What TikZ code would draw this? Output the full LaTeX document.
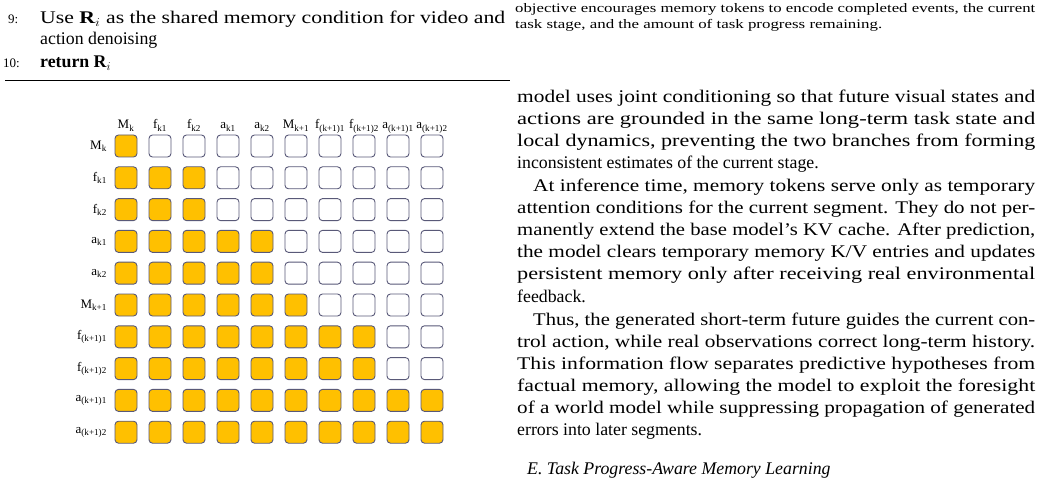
\documentclass[tikz,border=0pt]{standalone}
\usepackage{fontspec}
\usepackage{graphicx}
\setmainfont{Liberation Serif}
\begin{document}
\begin{tikzpicture}[x=1pt,y=-1pt,
  body/.style={anchor=base west,inner sep=0pt,font=\fontsize{17.8}{21}\selectfont},
  small/.style={anchor=base west,inner sep=0pt,font=\fontsize{13}{15}\selectfont},
  lab/.style={inner sep=0pt,font=\fontsize{13}{15}\selectfont},
  cell/.style={draw=black!60!blue!30!gray,line width=0.9pt,rounded corners=3.5pt,minimum width=22pt,minimum height=22pt,inner sep=0pt},
  on/.style={cell,fill=gold},
  off/.style={cell,fill=white}]
\definecolor{gold}{HTML}{FFC000}
\useasboundingbox (0,0) rectangle (1041,478);
\fill[white] (0,0) rectangle (1041,478);
% left column text
\node[body] (l9n) at (8,24) {\fontsize{13}{15}\selectfont 9:};
\node[body] (l9) at (40,24) {\resizebox{465pt}{\height}{Use $\mathbf{R}_i$ as the shared memory condition for video and}};
\node[body] (l9b) at (40,45) {action denoising};
\node[body] (l10n) at (3,68) {\fontsize{13}{15}\selectfont 10:};
\node[body] (l10) at (40,68) {\textbf{return} $\mathbf{R}_i$};
\draw[line width=0.8pt] (5,80) -- (510,80);
% right top small text
\node[small] (s1) at (515,13) {\resizebox{520pt}{\height}{objective encourages memory tokens to encode completed events, the current}};
\node[small] (s2) at (515,29) {\scalebox{1.3}[1]{task stage, and the amount of task progress remaining.}};
% body text
\foreach \t/\y/\ind/\j in {
 {model uses joint conditioning so that future visual states and}/103/0/1,
 {actions are grounded in the same long-term task state and}/125/0/1,
 {local dynamics, preventing the two branches from forming}/147/0/1,
 {inconsistent estimates of the current stage.}/169/0/0,
 {At inference time, memory tokens serve only as temporary}/192/1/1,
 {attention conditions for the current segment. They do not per-}/214/0/1,
 {manently extend the base model's KV cache. After prediction,}/236/0/1,
 {the model clears temporary memory K/V entries and updates}/258/0/1,
 {persistent memory only after receiving real environmental}/280/0/1,
 {feedback.}/302/0/0,
 {Thus, the generated short-term future guides the current con-}/325/1/1,
 {trol action, while real observations correct long-term history.}/347/0/1,
 {This information flow separates predictive hypotheses from}/369/0/1,
 {factual memory, allowing the model to exploit the foresight}/391/0/1,
 {of a world model while suppressing propagation of generated}/413/0/1,
 {errors into later segments.}/435/0/0}{
  \pgfmathsetmacro{\xx}{517+\ind*16}
  \pgfmathsetmacro{\ww}{518-\ind*16}
  \ifnum\j=1
    \node[body] at (\xx,\y) {\resizebox{\ww pt}{\height}{\t}};
  \else
    \node[body] at (\xx,\y) {\t};
  \fi
}
\node[body] (eh) at (527,474) {\textit{E. Task Progress-Aware Memory Learning}};
% grid
\foreach \r/\n in {0/1,1/3,2/3,3/5,4/5,5/6,6/8,7/8,8/10,9/10}{
  \foreach \c in {0,...,9}{
    \pgfmathtruncatemacro{\isOn}{\c<\n ? 1 : 0}
    \ifnum\isOn=1
      \node[on] (c\r-\c) at (126+34*\c,146+31.8*\r) {};
    \else
      \node[off] (c\r-\c) at (126+34*\c,146+31.8*\r) {};
    \fi
  }
}
\foreach \c/\t in {0/M\textsubscript{k},1/f\textsubscript{k1},2/f\textsubscript{k2},3/a\textsubscript{k1},4/a\textsubscript{k2},5/M\textsubscript{k+1},6/f\textsubscript{(k+1)1},7/f\textsubscript{(k+1)2},8/a\textsubscript{(k+1)1},9/a\textsubscript{(k+1)2}}{
  \node[lab,anchor=base] (h\c) at (126+34*\c,129) {\t};
}
\foreach \r/\t in {0/M\textsubscript{k},1/f\textsubscript{k1},2/f\textsubscript{k2},3/a\textsubscript{k1},4/a\textsubscript{k2},5/M\textsubscript{k+1},6/f\textsubscript{(k+1)1},7/f\textsubscript{(k+1)2},8/a\textsubscript{(k+1)1},9/a\textsubscript{(k+1)2}}{
  \node[lab,anchor=east] (v\r) at (107,146+31.8*\r) {\t};
}
\end{tikzpicture}
\end{document}
